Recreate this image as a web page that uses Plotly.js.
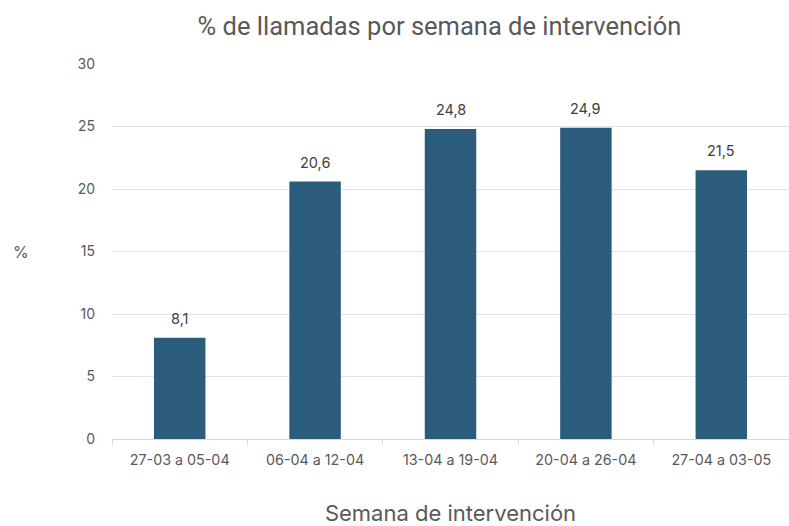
<!DOCTYPE html>
<html>
<head>
<meta charset="utf-8">
<script src="https://cdn.plot.ly/plotly-3.0.1.min.js"></script>
<style>
  html, body { margin: 0; padding: 0; background: #fff; }
  #chart { width: 789px; height: 526px; }
</style>
</head>
<body>
<div id="chart"></div>
<script>
// Semanas de intervención y porcentaje de llamadas
const semanas = ["27-03 a 05-04", "06-04 a 12-04", "13-04 a 19-04", "20-04 a 26-04", "27-04 a 03-05"];
const porcentajes = [8.1, 20.6, 24.8, 24.9, 21.5];
const ticksY = [0, 5, 10, 15, 20, 25, 30];

const fuente = "Inter, 'Open Sans', sans-serif";
const gris = "#595959";

const barras = {
  type: "bar",
  x: semanas,
  y: porcentajes,
  marker: { color: "#2c5c7c", line: { width: 0 } },
  hoverinfo: "skip"
};

// Etiquetas de valor sobre cada barra, con coma decimal
const etiquetas = semanas.map((s, i) => ({
  x: s,
  y: porcentajes[i],
  text: porcentajes[i].toFixed(1).replace(".", ","),
  showarrow: false,
  yanchor: "bottom",
  yshift: 9,
  font: { family: fuente, size: 14.5, color: "#404040" }
}));

// Rótulo del eje vertical, horizontal a la izquierda
etiquetas.push({
  xref: "paper",
  yref: "paper",
  x: -0.135,
  y: 0.5,
  xanchor: "center",
  yanchor: "middle",
  text: "%",
  showarrow: false,
  font: { family: fuente, size: 16, color: gris }
});

const layout = {
  width: 789,
  height: 526,
  margin: { l: 112, r: 0, t: 64, b: 87 },
  paper_bgcolor: "#ffffff",
  plot_bgcolor: "#ffffff",
  bargap: 0.62,
  showlegend: false,
  separators: ",.",
  title: {
    text: "% de llamadas por semana de intervención",
    font: { family: "Roboto, 'Open Sans', sans-serif", size: 25.5, color: gris },
    x: 0.557,
    xanchor: "center",
    y: 0.95,
    yanchor: "middle"
  },
  xaxis: {
    type: "category",
    tickson: "boundaries",
    ticks: "outside",
    ticklen: 5,
    tickcolor: "#d9d9d9",
    showline: true,
    linecolor: "#d9d9d9",
    linewidth: 1,
    showgrid: false,
    ticklabelstandoff: 8,
    tickfont: { family: fuente, size: 14.3, color: gris },
    title: {
      text: "Semana de intervención",
      font: { family: fuente, size: 22, color: gris },
      standoff: 41
    }
  },
  yaxis: {
    range: [0, 30],
    tickvals: ticksY,
    ticktext: ticksY.map(String),
    showgrid: true,
    gridcolor: "#e3e3e3",
    gridwidth: 1,
    zeroline: false,
    showline: false,
    ticks: "",
    ticklabelstandoff: 16,
    tickfont: { family: fuente, size: 14, color: gris }
  },
  annotations: etiquetas
};

Plotly.newPlot("chart", [barras], layout, { displayModeBar: false, staticPlot: true });
</script>
</body>
</html>
